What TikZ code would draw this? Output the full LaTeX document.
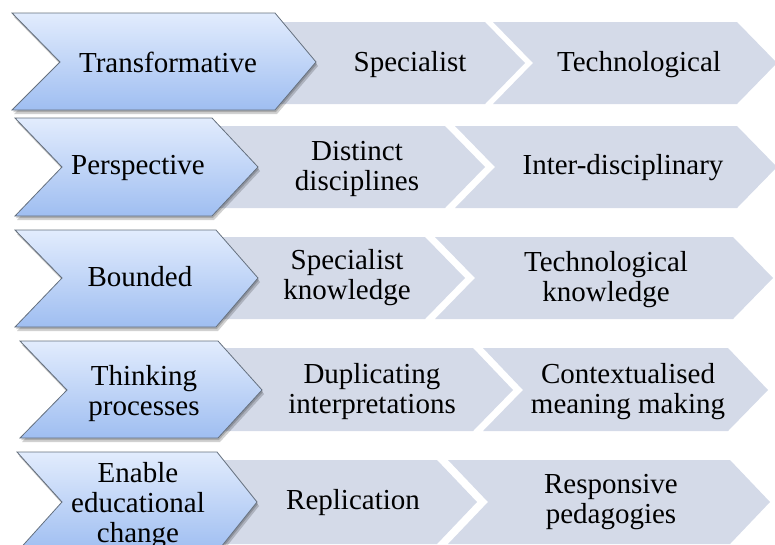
\documentclass[tikz,border=0pt]{standalone}
\usepackage{fontspec}
\setmainfont{Liberation Serif}
\definecolor{bluetop}{HTML}{E2ECFD}
\definecolor{bluebot}{HTML}{9FBEF1}
\definecolor{chevborder}{HTML}{65707E}
\definecolor{grayfill}{HTML}{D4DAE8}
% L, N, C, T, Y1, Y2, M
\newcommand{\chevshape}[7]{(#1,#5) -- (#3,#5) -- (#4,#7) -- (#3,#6) -- (#1,#6) -- (#2,#7) -- cycle}
\tikzset{
  bluechev/.style={draw=chevborder, line width=0.8pt, line join=miter, top color=bluetop, bottom color=bluebot},
  graychev/.style={fill=grayfill},
  shadowchev/.style={fill=black, opacity=0.18},
  lbl/.style={align=center, font=\fontsize{29}{30}\selectfont, inner sep=0pt, text=black}
}
\begin{document}
\begin{tikzpicture}[x=1pt,y=-1pt]
\useasboundingbox (0,0) rectangle (775,544);
\clip (0,0) rectangle (775,544);
% ---------- gray chevrons ----------
\fill[graychev] \chevshape{240}{280}{485}{525}{22}{104}{63};
\fill[graychev] \chevshape{493}{533}{737}{777}{22}{104}{63};
\fill[graychev] \chevshape{200}{240}{445}{485}{126}{208}{167};
\fill[graychev] \chevshape{455}{495}{737}{777}{126}{208}{167};
\fill[graychev] \chevshape{200}{240}{425}{465}{237}{319}{278};
\fill[graychev] \chevshape{435}{475}{733}{773}{237}{319}{278};
\fill[graychev] \chevshape{200}{240}{473}{513}{348}{431}{390};
\fill[graychev] \chevshape{483}{523}{728}{768}{348}{431}{390};
\fill[graychev] \chevshape{200}{240}{437}{477}{460}{544}{502};
\fill[graychev] \chevshape{448}{488}{730}{770}{460}{544}{502};
% ---------- shadows ----------
\foreach \dx/\dy in {1/2,2/4}{
  \begin{scope}[shift={(\dx,\dy)}]
  \fill[shadowchev] \chevshape{12}{60}{275}{316}{13}{110}{62};
  \fill[shadowchev] \chevshape{15}{62}{212}{258}{118}{216}{167};
  \fill[shadowchev] \chevshape{15}{62}{216}{258}{230}{327}{278};
  \fill[shadowchev] \chevshape{20}{67}{218}{262}{341}{438}{390};
  \fill[shadowchev] \chevshape{17}{62}{217}{257}{452}{552}{502};
  \end{scope}
}
% ---------- blue chevrons ----------
\path[bluechev] \chevshape{12}{60}{275}{316}{13}{110}{62};
\path[bluechev] \chevshape{15}{62}{212}{258}{118}{216}{167};
\path[bluechev] \chevshape{15}{62}{216}{258}{230}{327}{278};
\path[bluechev] \chevshape{20}{67}{218}{262}{341}{438}{390};
\path[bluechev] \chevshape{17}{62}{217}{257}{452}{552}{502};
% ---------- labels ----------
\node[lbl] (a1) at (168,62) {Transformative};
\node[lbl] (b1) at (410,65) {Specialist};
\node[lbl] (c1) at (639,65) {Technological};
\node[lbl] (a2) at (138,168) {Perspective};
\node[lbl] (b2) at (357,169) {Distinct\\disciplines};
\node[lbl] (c2) at (623,168) {Inter-disciplinary};
\node[lbl] (a3) at (140,277) {Bounded};
\node[lbl] (b3) at (347,278) {Specialist\\knowledge};
\node[lbl] (c3) at (606,280) {Technological\\knowledge};
\node[lbl] (a4) at (144,394) {Thinking\\processes};
\node[lbl] (b4) at (372,392) {Duplicating\\interpretations};
\node[lbl] (c4) at (628,392) {Contextualised\\meaning making};
\node[lbl] (a5) at (138,506) {Enable\\educational\\change};
\node[lbl] (b5) at (353,503) {Replication};
\node[lbl] (c5) at (611,502) {Responsive\\pedagogies};
\end{tikzpicture}
\end{document}
